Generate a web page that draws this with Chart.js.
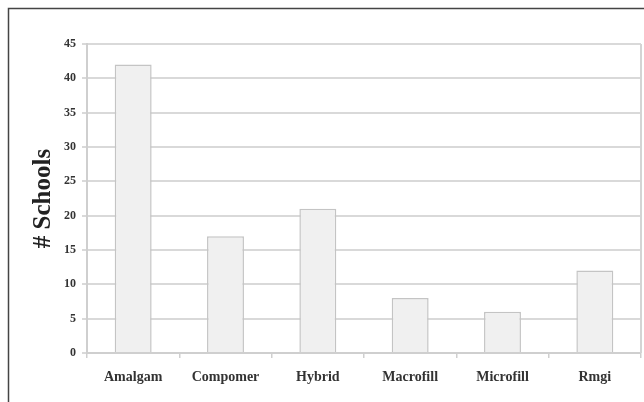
<!DOCTYPE html>
<html>
<head>
<meta charset="utf-8">
<script src="https://cdn.jsdelivr.net/npm/chart.js@4/dist/chart.umd.min.js"></script>
<style>
  html, body { margin: 0; padding: 0; background: #fff; }
  #wrap { width: 644px; height: 402px; position: relative; }
</style>
</head>
<body>
<div id="wrap"><canvas id="chart"></canvas></div>
<script>
// data
const materials = ['Amalgam', 'Compomer', 'Hybrid', 'Macrofill', 'Microfill', 'Rmgi'];
const schoolCounts = [42, 17, 21, 8, 6, 12];
const yTicks = [0, 5, 10, 15, 20, 25, 30, 35, 40, 45];

const SERIF = '"Liberation Serif", "Times New Roman", serif';

// outer frame + right edge of the plot box
const framePlugin = {
  id: 'frame',
  beforeDraw(chart) {
    const ctx = chart.ctx;
    ctx.save();
    ctx.strokeStyle = '#444';
    ctx.lineWidth = 1.5;
    ctx.beginPath();
    ctx.moveTo(8.5, chart.height);
    ctx.lineTo(8.5, 8.5);
    ctx.lineTo(chart.width, 8.5);
    ctx.stroke();
    ctx.restore();
  },
  afterDatasetsDraw(chart) {
    const { ctx, chartArea } = chart;
    ctx.save();
    ctx.strokeStyle = '#d4d4d4';
    ctx.lineWidth = 2;
    ctx.beginPath();
    ctx.moveTo(chartArea.right, chartArea.top);
    ctx.lineTo(chartArea.right, chartArea.bottom);
    ctx.stroke();
    ctx.restore();
  }
};

new Chart(document.getElementById('chart'), {
  type: 'bar',
  data: {
    labels: materials,
    datasets: [{
      data: schoolCounts,
      backgroundColor: '#f0f0f0',
      borderColor: '#c4c4c4',
      borderWidth: 1.5,
      barPercentage: 0.4,
      categoryPercentage: 1.0
    }]
  },
  options: {
    responsive: true,
    maintainAspectRatio: false,
    animation: false,
    devicePixelRatio: 1,
    layout: { padding: { top: 44, right: 3, left: 0, bottom: 0 } },
    plugins: {
      legend: { display: false },
      tooltip: { enabled: false }
    },
    scales: {
      x: {
        afterFit(scale) { scale.height = 49; },
        grid: {
          offset: true,
          drawOnChartArea: false,
          drawTicks: true,
          tickLength: 5,
          color: '#cfcfcf',
          lineWidth: 1.5
        },
        border: { display: true, color: '#cfcfcf', width: 2 },
        ticks: {
          padding: 11,
          color: '#333',
          font: { family: SERIF, size: 14, weight: 'bold' },
          maxRotation: 0
        }
      },
      y: {
        min: 0,
        max: 45,
        afterFit(scale) { scale.width = 87; },
        afterBuildTicks(scale) { scale.ticks = yTicks.map(v => ({ value: v })); },
        grid: {
          color: '#d9d9d9',
          lineWidth: 2,
          drawTicks: true,
          tickLength: 5,
        },
        border: { display: true, color: '#cfcfcf', width: 2 },
        ticks: {
          padding: 6,
          color: '#333',
          font: { family: SERIF, size: 12, weight: 'bold' }
        },
        title: {
          display: true,
          text: '# Schools',
          color: '#222',
          font: { family: SERIF, size: 25, weight: 'bold' },
          padding: { top: 29, bottom: 0 }
        }
      }
    }
  },
  plugins: [framePlugin]
});
</script>
</body>
</html>
